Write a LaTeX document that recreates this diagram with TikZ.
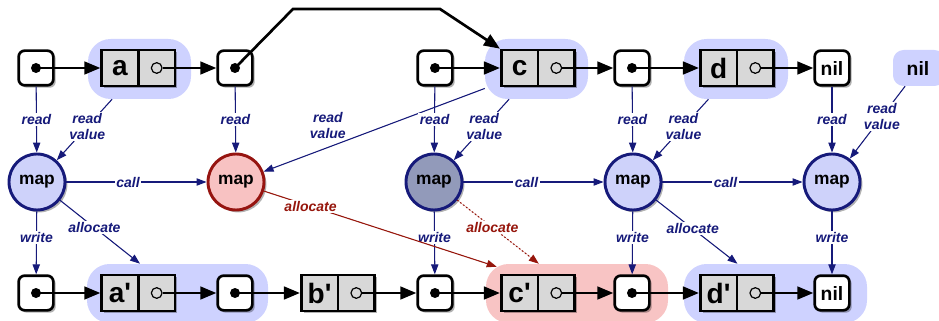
\documentclass[tikz,border=0pt]{standalone}
\usepackage{fontspec}
\setmainfont{Liberation Sans}
\usetikzlibrary{arrows.meta,shadows,fit,calc}

\definecolor{ink}{RGB}{22,26,122}
\definecolor{inkred}{RGB}{150,22,12}
\definecolor{hlblue}{RGB}{206,210,255}
\definecolor{hlred}{RGB}{248,196,196}
\definecolor{cellgray}{RGB}{216,216,216}
\definecolor{mapfill}{RGB}{206,210,250}
\definecolor{mapdark}{RGB}{146,154,186}
\definecolor{mapred}{RGB}{248,194,194}
\definecolor{mapredline}{RGB}{150,20,16}

\tikzset{
  shadowed/.style={drop shadow={shadow xshift=1.8pt, shadow yshift=-1.8pt, opacity=0.3, fill=black}},
  ptrbox/.style={draw, line width=2pt, rounded corners=4.5pt, fill=white,
    minimum size=26pt, inner sep=0pt, shadowed},
  nilbox/.style={ptrbox, font=\bfseries\fontsize{14.5}{16}\selectfont},
  cell/.style={draw, line width=2pt, fill=cellgray, minimum width=27.5pt,
    minimum height=27pt, inner sep=0pt, font=\bfseries\fontsize{21}{22}\selectfont, shadowed},
  ring/.style={circle, draw, line width=0.9pt, fill=cellgray, minimum size=8pt, inner sep=0pt},
  mapnode/.style={circle, draw=ink, line width=2.2pt, fill=mapfill, minimum size=42pt,
    inner sep=0pt, font=\bfseries\fontsize{13}{14}\selectfont, shadowed},
  hlb/.style={fill=hlblue, draw=none, rounded corners=17pt, inner sep=0pt},
  hlr/.style={hlb, fill=hlred},
  niltext/.style={font=\bfseries\fontsize{14.5}{16}\selectfont, inner sep=0pt},
  lbl/.style={font=\bfseries\itshape\fontsize{10.5}{12}\selectfont, text=ink, fill=white,
    inner sep=1pt, align=center},
  link/.style={line width=2pt, -{Triangle[length=12pt,width=9.5pt]}},
  flow/.style={draw=ink, line width=0.8pt, -{Triangle[length=7.5pt,width=5.5pt]}, fill=ink},
  redflow/.style={flow, draw=inkred, fill=inkred},
}

\begin{document}
\begin{tikzpicture}[x=0.75pt, y=-0.75pt]
\useasboundingbox (0,0) rectangle (939,321);

% highlighted cells
\node[hlb, fit={(88,39) (191,99)}] (ha) {};
\node[hlb, fit={(485,39) (588,99)}] (hc) {};
\node[hlb, fit={(684,39) (788,99)}] (hd) {};
\node[hlb, rounded corners=8pt, fit={(893,50) (945,86)}] (hn) {};
\node[hlb, fit={(87,264) (268,323)}] (ha2) {};
\node[hlr, fit={(486,264) (668,323)}] (hc2) {};
\node[hlb, fit={(684,264) (867,323)}] (hd2) {};
\node[niltext] (nv) at (918,68) {nil};

% input list
\node[ptrbox] (p1) at (36,68) {};
\node[cell] (a) at (120,68) {a};
\node[cell] (ar) at (156.7,68) {};
\node[ring] (ra) at (ar) {};
\node[ptrbox] (p2) at (235,68) {};
\node[ptrbox] (p3) at (435,68) {};
\node[cell] (c) at (519.6,68) {c};
\node[cell] (cr) at (556.3,68) {};
\node[ring] (rc) at (cr) {};
\node[ptrbox] (p4) at (632,68) {};
\node[cell] (d) at (718.6,68) {d};
\node[cell] (dr) at (755.3,68) {};
\node[ring] (rd) at (dr) {};
\node[nilbox] (n1) at (832,68) {nil};

% map calls
\node[mapnode] (m1) at (37,182) {map};
\node[mapnode, fill=mapred, draw=mapredline] (m2) at (236,182) {map};
\node[mapnode, fill=mapdark] (m3) at (434,182) {map};
\node[mapnode] (m4) at (633,182) {map};
\node[mapnode] (m5) at (832,182) {map};

% output list
\node[ptrbox] (q1) at (36,293) {};
\node[cell] (a2) at (120,293) {a\textquotesingle};
\node[cell] (a2r) at (156.7,293) {};
\node[ring] (ra2) at (a2r) {};
\node[ptrbox] (q2) at (235,293) {};
\node[cell] (b2) at (319.6,293) {b\textquotesingle};
\node[cell] (b2r) at (356.3,293) {};
\node[ring] (rb2) at (b2r) {};
\node[ptrbox] (q3) at (435,293) {};
\node[cell] (c2) at (519.6,293) {c\textquotesingle};
\node[cell] (c2r) at (556.3,293) {};
\node[ring] (rc2) at (c2r) {};
\node[ptrbox] (q4) at (632,293) {};
\node[cell] (d2) at (718.6,293) {d\textquotesingle};
\node[cell] (d2r) at (755.3,293) {};
\node[ring] (rd2) at (d2r) {};
\node[nilbox] (n2) at (832,293) {nil};

\foreach \p in {p1,p2,p3,p4,q1,q2,q3,q4}
  \fill (\p) circle[radius=3.75pt];

% list links
\coordinate (bendA) at (293,9);
\coordinate (bendB) at (440,9);
\draw[link] (p1.center) -- (a);
\draw[link] (ra) -- (p2);
\draw[link] (p2.center) -- (bendA) -- (bendB) -- (c.north west);
\draw[link] (p3.center) -- (c);
\draw[link] (rc) -- (p4);
\draw[link] (p4.center) -- (d);
\draw[link] (rd) -- (n1);

\draw[link] (q1.center) -- (a2);
\draw[link] (ra2) -- (q2);
\draw[link] (q2.center) -- (b2);
\draw[link] (rb2) -- (q3);
\draw[link] (q3.center) -- (c2);
\draw[link] (rc2) -- (q4);
\draw[link] (q4.center) -- (d2);
\draw[link] (rd2) -- (n2);

% reads
\draw[flow] (p1) -- node[lbl]{read} (m1);
\draw[flow] (ha) -- node[lbl, pos=0.45]{read\\value} (m1);
\draw[flow] (p2) -- node[lbl]{read} (m2);
\draw[flow] (hc) -- node[lbl, fill=none, pos=0.62, anchor=south east]{read\\value} (m2);
\draw[flow] (p3) -- node[lbl]{read} (m3);
\draw[flow] (hc) -- node[lbl, pos=0.45]{read\\value} (m3);
\draw[flow] (p4) -- node[lbl]{read} (m4);
\draw[flow] (hd) -- node[lbl, pos=0.45]{read\\value} (m4);
\draw[flow] (n1) -- node[lbl]{read} (m5);
\draw[flow] (hn) -- node[lbl, pos=0.42]{read\\value} (m5);

% calls
\draw[flow] (m1) -- node[lbl, pos=0.44]{call} (m2);
\draw[flow] (m3) -- node[lbl, pos=0.45]{call} (m4);
\draw[flow] (m4) -- node[lbl, pos=0.45]{call} (m5);

% writes
\draw[flow] (m1) -- node[lbl, pos=0.42]{write} (q1);
\draw[flow] (m3) -- node[lbl, pos=0.42]{write} (q3);
\draw[flow] (m4) -- node[lbl, pos=0.42]{write} (q4);
\draw[flow] (m5) -- node[lbl, pos=0.42]{write} (n2);

% allocations
\coordinate (hcc) at ($(hc2.north west)+(11,3)$);
\draw[flow] (m1) -- node[lbl, pos=0.43]{allocate} (ha2);
\draw[flow] (m4) -- node[lbl, pos=0.45]{allocate} (hd2);
\draw[redflow] (m2) -- node[lbl, text=inkred, pos=0.2]{allocate} (hcc);
\draw[redflow, dash pattern=on 1.2pt off 1.6pt] (m3) -- node[lbl, text=inkred, pos=0.43]{allocate} (hc2);
\end{tikzpicture}
\end{document}
